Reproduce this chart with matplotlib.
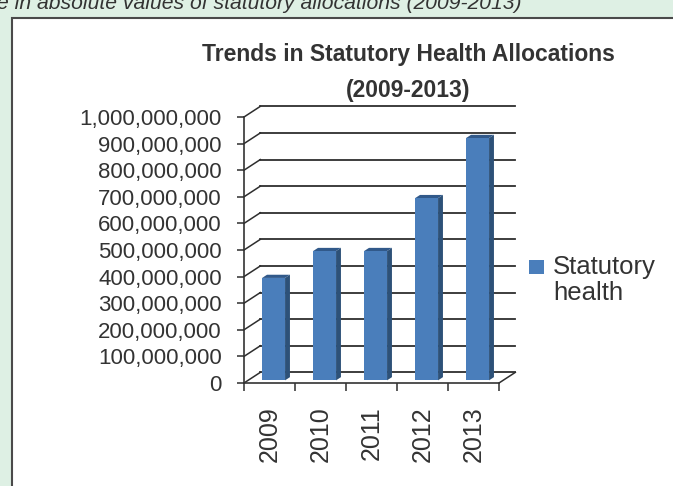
import numpy as np
import matplotlib
matplotlib.use('Agg')
import matplotlib.pyplot as plt
from matplotlib.patches import Polygon, Rectangle

plt.rcParams['font.family'] = ['Liberation Sans', 'DejaVu Sans']

# data
years = ['2009', '2010', '2011', '2012', '2013']
allocations = [385e6, 486e6, 486e6, 685e6, 911e6]
y_ticks = np.arange(0, 1.0e9 + 1, 1e8)
series_name = 'Statutory\nhealth'

W, H = 673, 486
fig = plt.figure(figsize=(W / 100, H / 100), dpi=100)
fig.patch.set_facecolor('#def0e4')

# white panel with dark border
panel = Rectangle((12 / W, -0.1), 2, (H - 18) / H + 0.1, transform=fig.transFigure,
                  facecolor='white', edgecolor='#4a4a4a', linewidth=1.5, zorder=0)
fig.add_artist(panel)

fig.text(-0.004, 1 - 9 / H, 'e in absolute values of statutory allocations (2009-2013)',
         fontsize=15.2, style='italic', color='#333333', va='baseline', ha='left')

ax = fig.add_axes([244 / W, 1 - 383 / H, 255 / W, 266 / H])
ax.set_xlim(0, 5)
ax.set_ylim(0, 1e9)
ax.patch.set_alpha(0)
for s in ['top', 'right']:
    ax.spines[s].set_visible(False)
ax.spines['left'].set_color('#333333')
ax.spines['bottom'].set_color('#333333')
ax.spines['left'].set_linewidth(1.2)
ax.spines['bottom'].set_linewidth(1.2)

# depth of the 3D box in data units
DX, DY = 0.32, 40e6
line_col = '#2e2e2e'

# back wall gridlines and left wall diagonals
for v in y_ticks:
    ax.plot([DX, 5 + DX], [v + DY, v + DY], color=line_col, lw=1.3, clip_on=False, zorder=1)
    ax.plot([0, DX], [v, v + DY], color=line_col, lw=1.1, clip_on=False, zorder=1)
ax.plot([5, 5 + DX], [0, DY], color=line_col, lw=1.1, clip_on=False, zorder=1)

# bars (front faces + side + top)
x = np.arange(len(years))
f0, fd = 0.25, 0.3
bw = 0.45
centers = x + 0.5 + f0 * DX
base = f0 * DY
bars = ax.bar(centers, allocations, width=bw, bottom=base, color='#4a7ebb',
              edgecolor='none', zorder=3, clip_on=False)
for b, v in zip(bars, allocations):
    xl = b.get_x()
    xr = xl + b.get_width()
    top = base + v
    side = Polygon([(xr, base), (xr + fd * DX, base + fd * DY),
                    (xr + fd * DX, top + fd * DY), (xr, top)],
                   closed=True, facecolor='#2d5178', edgecolor='none', zorder=2, clip_on=False)
    cap = Polygon([(xl, top), (xr, top), (xr + fd * DX, top + fd * DY), (xl + fd * DX, top + fd * DY)],
                  closed=True, facecolor='#31598a', edgecolor='none', zorder=2, clip_on=False)
    ax.add_patch(side)
    ax.add_patch(cap)

# axes ticks
ax.set_yticks(y_ticks)
ax.set_yticklabels([f'{int(v):,}' for v in y_ticks])
ax.tick_params(axis='y', direction='out', length=5, width=1.1, color=line_col,
               labelsize=16, labelcolor='#333333', pad=11)
ax.set_xticks(np.arange(0, 6))
ax.set_xticklabels([])
ax.tick_params(axis='x', which='major', direction='out', length=6, width=1.1, color=line_col)
ax.set_xticks(x + 0.5, minor=True)
ax.set_xticklabels(years, minor=True, rotation=90, fontsize=18, color='#333333')
ax.tick_params(axis='x', which='minor', length=0, pad=17)

# title
fig.text(408 / W, 1 - 55 / H, 'Trends in Statutory Health Allocations', fontsize=16.5,
         fontweight='bold', color='#333333', ha='center', va='center')
fig.text(408 / W, 1 - 90 / H, '(2009-2013)', fontsize=16.5,
         fontweight='bold', color='#333333', ha='center', va='center')

# legend
fig.add_artist(Rectangle((529 / W, 1 - 274 / H), 15 / W, 14 / H, transform=fig.transFigure,
                         facecolor='#4a7ebb', edgecolor='none'))
fig.text(553 / W, 1 - 255 / H, series_name, fontsize=18.5, color='#333333',
         ha='left', va='top', linespacing=1.1)

fig.savefig('out.png', dpi=100, facecolor=fig.get_facecolor())
